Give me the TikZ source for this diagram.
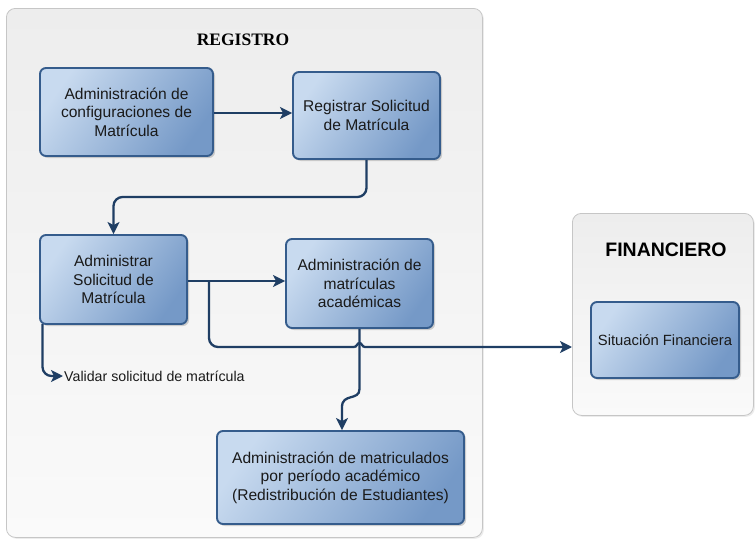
\documentclass[tikz,border=0pt]{standalone}
\usepackage{fontspec}
\setmainfont{Liberation Sans}
\newfontfamily\titleserif{Liberation Serif}
\usetikzlibrary{arrows.meta,shadows,calc}
\definecolor{boxlight}{HTML}{C8DAEF}
\definecolor{boxdark}{HTML}{7599C7}
\definecolor{boxborder}{HTML}{355C8C}
\definecolor{arrowcol}{HTML}{1F3E64}
\definecolor{contfill}{HTML}{EDEDED}
\definecolor{contfill2}{HTML}{FAFAFA}
\definecolor{contborder}{HTML}{C6C6C6}
\definecolor{txt}{HTML}{1A1A1A}
\tikzset{
  procbox/.style={draw=boxborder, line width=1.9pt, rounded corners=6pt,
    top color=boxlight, bottom color=boxdark, shading angle=55,
    drop shadow={opacity=0.35, shadow xshift=2pt, shadow yshift=-2pt},
    align=center, text=txt, font=\fontsize{15.6}{18.5}\selectfont, inner sep=0pt},
  container/.style={draw=contborder, line width=0.8pt, rounded corners=9pt,
    top color=contfill, bottom color=contfill2,
    drop shadow={opacity=0.15, shadow xshift=1.5pt, shadow yshift=-1.5pt}},
  conn/.style={draw=arrowcol, line width=2.3pt},
  arr/.style={conn, -{Stealth[length=12pt, width=12pt, inset=3pt]}}
}
\begin{document}
\begin{tikzpicture}[x=1pt, y=-1pt]
\useasboundingbox (0,0) rectangle (755,541);
% containers
\node[container, minimum width=476pt, minimum height=529pt, anchor=north west] (reg) at (6,8) {};
\node[container, minimum width=181pt, minimum height=202pt, anchor=north west] (fin) at (572,213) {};
\node[font=\titleserif\bfseries\fontsize{17.5}{20}\selectfont, text=black] (regt) at (243,40) {REGISTRO};
\node[font=\bfseries\fontsize{19.5}{22}\selectfont, text=black] (fint) at (666,250) {FINANCIERO};
% boxes
\node[procbox, minimum width=173pt, minimum height=88pt] (b1) at (126.5,112) {Administración de\\configuraciones de\\Matrícula};
\node[procbox, minimum width=147pt, minimum height=87pt] (b2) at (366.5,115.5) {Registrar Solicitud\\de Matrícula};
\node[procbox, minimum width=147pt, minimum height=89pt] (b3) at (113.5,279.5) {Administrar\\Solicitud de\\Matrícula};
\node[procbox, minimum width=147pt, minimum height=89pt] (b4) at (359.5,283.5) {Administración de\\matrículas\\académicas};
\node[procbox, minimum width=247pt, minimum height=93pt] (b5) at (340.5,477.5) {Administración de matriculados\\por período académico\\(Redistribución de Estudiantes)};
\node[procbox, minimum width=148pt, minimum height=76pt, font=\fontsize{14.8}{17}\selectfont] (b6) at (665,340) {Situación Financiera};
\node[anchor=west, text=txt, font=\fontsize{14.2}{16}\selectfont, inner sep=1pt] (val) at (63,376) {Validar solicitud de matrícula};
% connectors
\draw[arr] (b1.east |- 0,113) -- (b2.west |- 0,113);
\draw[arr, rounded corners=9pt] (b2.south) -- (b2.south |- 0,197) -| (b3.north);
\draw[arr] (b3.east |- 0,281) -- (b4.west |- 0,281);
\coordinate (br) at (209,281);
\coordinate (hopL) at (354,347);
\draw[conn, rounded corners=9pt] (br) |- (hopL);
\draw[arr] (hopL) .. controls (357,347) and (357,343) .. (359.5,343) .. controls (362,343) and (362,347) .. (365,347) -- (fin.west |- 0,347);
\draw[arr] (b4.south) -- (359.5,389) .. controls (359.5,401) and (342,393) .. (342,407) -- (b5.north -| 342,0);
\draw[arr, rounded corners=9pt] (42.5,324) |- (val.west);
\end{tikzpicture}
\end{document}
